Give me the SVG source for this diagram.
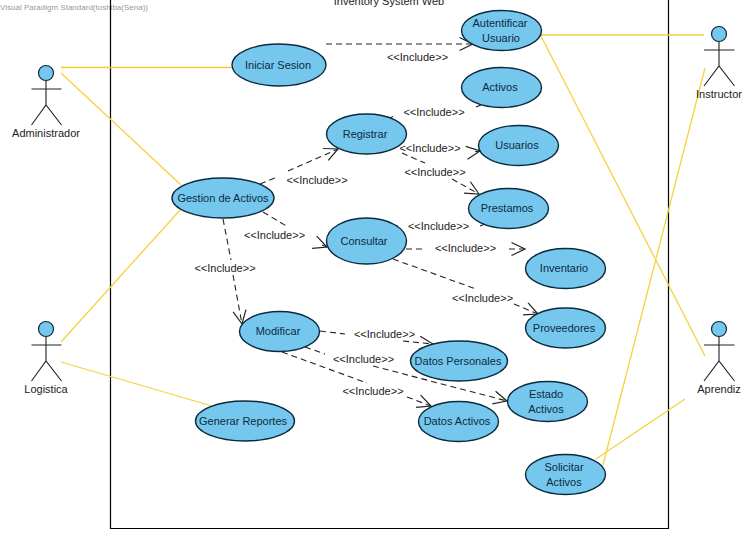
<svg xmlns="http://www.w3.org/2000/svg" width="756" height="533" viewBox="0 0 756 533">
<defs>
<marker id="open" markerUnits="userSpaceOnUse" markerWidth="20" markerHeight="20" refX="15" refY="10" orient="auto"><path d="M1.500 3.500L15 10L1.500 16.500" fill="none" stroke="#222" stroke-width="1.200"/></marker>
</defs>
<style>
text{font-family:"Liberation Sans",Arial,sans-serif;font-size:11px;fill:#222;text-anchor:middle}
.uc ellipse{fill:#75c7ee;stroke:#0b2a3d;stroke-width:1.400}
.uc text{fill:#0d2b3e}
.a ellipse{fill:#75c7ee;stroke:#0b2a3d;stroke-width:1.200}
.a path{fill:none;stroke:#222;stroke-width:1.100}
.y{fill:none;stroke:#f6d23f;stroke-width:1.300}
.d{fill:none;stroke:#222;stroke-width:1.100;stroke-dasharray:6 4}
.m{marker-end:url(#open)}
.t{fill:none;stroke:#222;stroke-width:1.200}
</style>
<rect width="756" height="533" fill="#fff"/>
<text x="74" y="10" style="font-size:8px;fill:#999">Visual Paradigm Standard(toshiba(Sena))</text>
<g id="system"><path d="M110.500 0V528.500H668.500V0" fill="none" stroke="#000" stroke-width="1.200"/><text x="389" y="5">Inventory System Web</text></g>
<g id="connectors">
<path class="y" style="stroke:#f8c92e;stroke-width:1.600" d="M61 67.500H232"/>
<path class="y" d="M61 73L181 185"/>
<path class="y" d="M61 342L181 209"/>
<path class="y" d="M61 362L212 406"/>
<path class="y" d="M541 35H704"/>
<path class="y" d="M541 36L705 356"/>
<path class="y" d="M705 68L603 465"/>
<path class="y" d="M685 399L596 459"/>
<path class="d m" d="M326 44H473"/>
<path class="d" d="M260 184L277 177"/>
<path class="d m" d="M288 171L338 149"/>
<path class="d" d="M263 212L288 227"/>
<path class="d m" d="M322 245.100L327 247"/>
<path class="d" d="M223 219L231 260"/>
<path class="d m" d="M233 275L242 324"/>
<path class="t" d="M390 118L393 116.500"/>
<path class="t" d="M476 107L481 105"/>
<path class="d" d="M402 153L425 163"/>
<path class="d m" d="M452 179L479 194"/>
<path class="d m" d="M475 151.700L480 151"/>
<path class="t" d="M480 226L485 224"/>
<path class="t" d="M394 225L398 226"/>
<path class="d" d="M406 249L426 249"/>
<path class="d m" d="M509 249L525 249"/>
<path class="d" d="M393 259L476 289"/>
<path class="d m" d="M514 304L538 314"/>
<path class="d" d="M320 331L345 334"/>
<path class="d m" d="M403 341L433 344"/>
<path class="d" d="M305 347L325 354"/>
<path class="d m" d="M373 366L507 401"/>
<path class="d" d="M282 352L367 383"/>
<path class="d m" d="M407 397L431 406"/>
</g>
<g id="labels">
<text x="417.500" y="61">&lt;&lt;Include&gt;&gt;</text>
<text x="434" y="116">&lt;&lt;Include&gt;&gt;</text>
<text x="430" y="152">&lt;&lt;Include&gt;&gt;</text>
<text x="435" y="176">&lt;&lt;Include&gt;&gt;</text>
<text x="317" y="184">&lt;&lt;Include&gt;&gt;</text>
<text x="274.500" y="239">&lt;&lt;Include&gt;&gt;</text>
<text x="225" y="272">&lt;&lt;Include&gt;&gt;</text>
<text x="438.500" y="230">&lt;&lt;Include&gt;&gt;</text>
<text x="465.500" y="252">&lt;&lt;Include&gt;&gt;</text>
<text x="482.500" y="302">&lt;&lt;Include&gt;&gt;</text>
<text x="384.500" y="338">&lt;&lt;Include&gt;&gt;</text>
<text x="363.500" y="363">&lt;&lt;Include&gt;&gt;</text>
<text x="373" y="395">&lt;&lt;Include&gt;&gt;</text>
</g>
<g id="autentificar" class="uc"><ellipse cx="501.500" cy="30.500" rx="40" ry="20"/><text x="500" y="27">Autentificar</text><text x="501" y="42">Usuario</text></g>
<g id="iniciar" class="uc"><ellipse cx="279" cy="65" rx="47" ry="21"/><text x="278" y="69">Iniciar Sesion</text></g>
<g id="activos" class="uc"><ellipse cx="501.500" cy="87.500" rx="40" ry="20"/><text x="500" y="91">Activos</text></g>
<g id="registrar" class="uc"><ellipse cx="366.500" cy="134" rx="40" ry="20"/><text x="365" y="138">Registrar</text></g>
<g id="usuarios" class="uc"><ellipse cx="518.500" cy="145.500" rx="40" ry="20"/><text x="517" y="149">Usuarios</text></g>
<g id="gestion" class="uc"><ellipse cx="223" cy="198" rx="51" ry="20"/><text x="223" y="202">Gestion de Activos</text></g>
<g id="prestamos" class="uc"><ellipse cx="508.500" cy="208.500" rx="40" ry="20"/><text x="507" y="212">Prestamos</text></g>
<g id="consultar" class="uc"><ellipse cx="366.500" cy="241" rx="40" ry="23"/><text x="364" y="245">Consultar</text></g>
<g id="inventario" class="uc"><ellipse cx="565.500" cy="268.500" rx="40" ry="20"/><text x="564" y="272">Inventario</text></g>
<g id="proveedores" class="uc"><ellipse cx="565.500" cy="328" rx="40" ry="20"/><text x="564" y="332">Proveedores</text></g>
<g id="modificar" class="uc"><ellipse cx="279.500" cy="331.500" rx="40" ry="20"/><text x="278" y="335">Modificar</text></g>
<g id="personales" class="uc"><ellipse cx="459" cy="361" rx="48.500" ry="20"/><text x="458" y="365">Datos Personales</text></g>
<g id="estado" class="uc"><ellipse cx="547.500" cy="401.500" rx="40" ry="20"/><text x="546" y="398">Estado</text><text x="546" y="413">Activos</text></g>
<g id="datosactivos" class="uc"><ellipse cx="458.500" cy="421.500" rx="40" ry="20"/><text x="457" y="425">Datos Activos</text></g>
<g id="reportes" class="uc"><ellipse cx="245" cy="421" rx="49.500" ry="20"/><text x="243" y="425">Generar Reportes</text></g>
<g id="solicitar" class="uc"><ellipse cx="565.500" cy="474.500" rx="40" ry="20"/><text x="564" y="471">Solicitar</text><text x="564" y="486">Activos</text></g>
<g id="administrador" class="a"><ellipse cx="46" cy="73" rx="7.500" ry="7.500"/><path d="M46 81V105M31.500 89H61.500M31.500 125L46 105L61.500 125"/><text x="46" y="137">Administrador</text></g>
<g id="logistica" class="a"><ellipse cx="46" cy="329" rx="7.500" ry="7.500"/><path d="M46 337V361M31.500 345H61.500M31.500 381L46 361L61.500 381"/><text x="46" y="393">Logistica</text></g>
<g id="instructor" class="a"><ellipse cx="719" cy="34" rx="7.500" ry="7.500"/><path d="M719 42V66M704 50H734.500M704 86L719 66L734.500 86"/><text x="719" y="98">Instructor</text></g>
<g id="aprendiz" class="a"><ellipse cx="719" cy="329" rx="7.500" ry="7.500"/><path d="M719 337V361M704 345H734.500M704 381L719 361L734.500 381"/><text x="719" y="393">Aprendiz</text></g>
</svg>
